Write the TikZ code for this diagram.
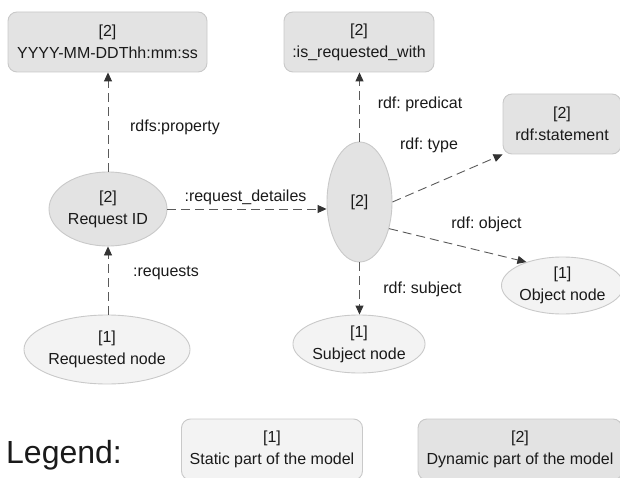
\documentclass[tikz,border=0pt]{standalone}
\usepackage{fontspec}
\setmainfont{Liberation Sans}
\usetikzlibrary{shapes.geometric,arrows.meta}
\frenchspacing
\definecolor{dynfill}{HTML}{E3E3E3}
\definecolor{statfill}{HTML}{F3F3F3}
\definecolor{bordc}{HTML}{C9C9C9}
\definecolor{linec}{HTML}{5A5A5A}
\definecolor{tipc}{HTML}{333333}
\definecolor{txtc}{HTML}{1A1A1A}
\tikzset{
  base/.style={draw=bordc, line width=0.9pt, text=txtc, align=center, inner sep=0pt,
    font=\fontsize{16}{22}\selectfont},
  dynbox/.style={base, rectangle, rounded corners=9pt, fill=dynfill},
  statbox/.style={base, rectangle, rounded corners=9pt, fill=statfill},
  dynell/.style={base, ellipse, fill=dynfill},
  statell/.style={base, ellipse, fill=statfill},
  conn/.style={draw=linec, line width=0.9pt, dash pattern=on 9pt off 5pt,
    -{Triangle[length=9pt,width=8pt,fill=tipc,color=tipc]}},
  lbl/.style={text=txtc, font=\fontsize{16}{20}\selectfont, inner sep=0pt, anchor=base},
}
\begin{document}
\begin{tikzpicture}[x=1pt,y=-1pt]
\useasboundingbox (0,0) rectangle (620,478);
% nodes
\node[dynbox, minimum width=199pt, minimum height=60pt] (yyyy) at (107.5,42) {[2]\\YYYY-MM-DDThh:mm:ss};
\node[dynbox, minimum width=150pt, minimum height=60pt] (isreq) at (359,42) {[2]\\:is\_requested\_with};
\node[dynbox, minimum width=118pt, minimum height=60pt] (stmt) at (562,124) {[2]\\rdf:statement};
\node[dynell, minimum width=118pt, minimum height=74pt] (reqid) at (108,209) {[2]\\Request ID};
\node[dynell, minimum width=65pt, minimum height=120pt] (mid) at (359.5,202) {[2]};
\node[statell, minimum width=152pt, minimum height=69pt] (reqnode) at (107,349.5) {[1]\\Requested node};
\node[statell, minimum width=116pt, minimum height=58pt] (subj) at (359,344) {[1]\\Subject node};
\node[statell, minimum width=115pt, minimum height=57pt] (obj) at (562.5,285.5) {[1]\\Object node};
% legend
\node[text=txtc, font=\fontsize{32}{36}\selectfont, inner sep=0pt, anchor=base west] (leg) at (6,463) {Legend:};
\node[statbox, minimum width=181pt, minimum height=61pt] (lstat) at (272,449.5) {[1]\\Static part of the model};
\node[dynbox, minimum width=204pt, minimum height=61pt] (ldyn) at (520,449.5) {[2]\\Dynamic part of the model};
% connectors
\draw[conn] (reqid.north) -- (reqid.north |- yyyy.south);
\draw[conn] (reqid.south |- reqnode.north) -- (reqid.south);
\draw[conn] (reqid.east) -- (reqid.east -| mid.west);
\draw[conn] (mid.north) -- (mid.north |- isreq.south);
\draw[conn] (mid.east) -- (stmt.south west);
\draw[conn] (mid.-42) -- (obj.147);
\draw[conn] (mid.south) -- (mid.south |- subj.north);
% labels
\node[lbl] (l1) at (175,132) {rdfs:property};
\node[lbl] (l2) at (166,276) {:requests};
\node[lbl] (l3) at (245.5,202) {:request\_detailes};
\node[lbl] (l4) at (420,109) {rdf: predicat};
\node[lbl] (l5) at (429,150) {rdf: type};
\node[lbl] (l6) at (486.5,228) {rdf: object};
\node[lbl] (l7) at (422.5,293) {rdf: subject};
\end{tikzpicture}
\end{document}
